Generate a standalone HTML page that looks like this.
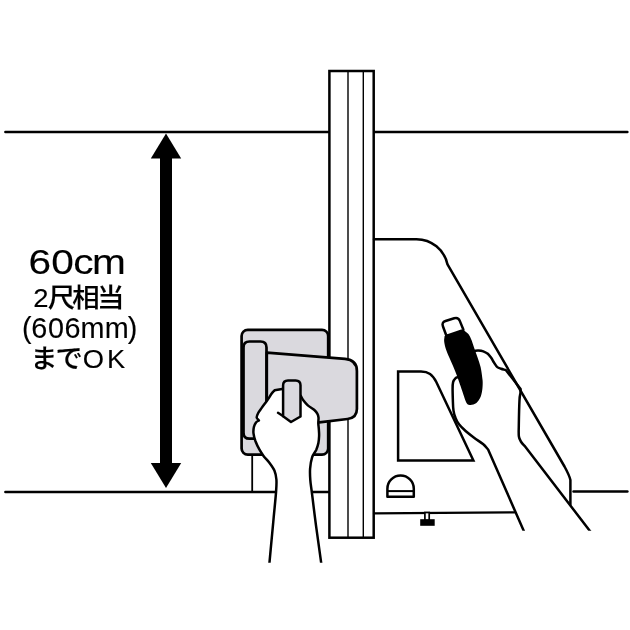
<!DOCTYPE html>
<html lang="ja">
<head>
<meta charset="utf-8">
<title>60cm 2尺相当(606mm)までOK</title>
<style>
html,body{margin:0;padding:0;background:#fff;}
body{width:630px;height:630px;overflow:hidden;position:relative;font-family:"Liberation Sans","Noto Sans CJK JP",sans-serif;}
svg{position:absolute;left:0;top:0;display:block;will-change:transform;}
.ln{fill:none;stroke:#000;stroke-width:2.5;stroke-linecap:round;stroke-linejoin:round;}
.bt{fill:none;stroke:#000;stroke-width:2.5;stroke-linecap:butt;stroke-linejoin:miter;}
.thin{fill:none;stroke:#000;stroke-width:1.4;}
.gy{fill:#dad9de;stroke:#000;stroke-width:2.7;stroke-linejoin:round;stroke-linecap:round;}
.wh{fill:#fff;stroke:none;}
text{fill:#000;stroke:#000;stroke-width:.12;stroke-linejoin:round;}
.la{font-family:"Liberation Sans",sans-serif;font-weight:400;}
.jp{font-family:"Liberation Sans","Noto Sans CJK JP",sans-serif;font-weight:500;}
</style>
</head>
<body>
<svg width="630" height="630" viewBox="0 0 630 630">
<defs><clipPath id="cl"><rect x="0" y="0" width="630" height="562.7"/></clipPath><clipPath id="cr"><rect x="0" y="0" width="630" height="530.8"/></clipPath></defs>
<rect width="630" height="630" fill="#fff"/>

<!-- wall lines -->
<path class="ln" d="M5.4 131.9H627.4"/>
<path class="ln" d="M5.4 492.1H329"/>
<path class="ln" d="M573.5 491.4H627.4"/>

<!-- dimension arrow -->
<g fill="#000">
<rect x="160" y="157" width="12" height="308"/>
<path d="M166 133.5L181.2 158.6H150.8Z"/>
<path d="M166 488L181.2 462.9H150.8Z"/>
</g>

<!-- text -->
<g id="labels">
<text class="la" transform="scale(1.1387,1)" font-size="35.7" y="273.7" x="24.99 45.00 64.38 80.89">60cm</text>
<text class="jp" transform="scale(1.0546,1)" font-size="26" y="306.9" x="31.51 45.25 68.52 92.08">2尺相当</text>
<text class="la" transform="scale(0.9832,1)" font-size="29.3" y="337.8" x="22.42 31.72 48.76 65.59 81.87 106.44 129.85">(606mm)</text>
<text class="jp" transform="scale(1.0277,1)" font-size="26.6" y="367.9" x="29.40 54.10 80.44 104.18">までOK</text>
</g>

<!-- small vertical line under guide -->
<path class="thin" style="stroke-width:1.8" d="M252.2 454V492"/>

<!-- guide base (gray rounded rect) -->
<rect class="gy" x="241.6" y="329.8" width="86.6" height="124.9" rx="6.2" ry="6.2"/>

<!-- ruler -->
<rect class="bt" x="329.4" y="71" width="44.3" height="466.7" style="fill:#fff"/>
<path class="thin" d="M348 71V537.7M363.3 71V537.7"/>

<!-- machine body -->
<path class="ln" d="M374 239.2H416.5A31.8 31.8 0 0 1 447.5 264.4L564.5 466.5C567.5 472 569.5 476 570.4 480V504.6"/>
<path class="ln" style="stroke-width:2.3" d="M374 513.3L514.5 512.3"/>
<path class="ln" style="stroke-linejoin:miter" d="M398.1 371.6H421C428.5 371.6 432.5 374.5 436.3 382L473.4 460.5H398.1Z"/>
<path class="ln" d="M387.4 496.8V488.7A13.2 13.2 0 0 1 413.8 488.7V496.8Z"/>
<path class="thin" style="stroke-width:2" d="M387.4 491.1H413.8"/>
<rect x="424.9" y="512.5" width="4.3" height="8" fill="#fff" stroke="#000" stroke-width="1.7"/>
<rect x="420.2" y="519.2" width="14.5" height="6.6" fill="#000"/>

<!-- guide handle + plate -->
<path class="gy" d="M266.5 402V347.5Q266.5 341.5 260.5 341.5H249.5Q243.5 341.5 243.5 347.5V432.7Q243.5 438.7 249.5 438.7H256"/>
<path class="gy" d="M266.8 352.7L345 358.9C352.5 359.6 356.9 363.5 356.9 371V409C356.9 415 354 418.2 347.5 419L319.2 422.3L266.8 410Z"/>

<!-- left hand -->
<path class="wh" d="M282.1 389.1L274.6 390.3C273.7 391.3 273.2 391.5 271.9 393.3C270.6 395.1 268.5 398.6 266.8 401C265.1 403.4 263.1 405.9 261.7 407.9C260.3 409.9 259 411.4 258.2 413C257.4 414.6 256.6 416.3 256.7 417.5C256.8 418.7 258.2 419.4 258.9 420.4C257.9 421.1 256.8 421.4 256 422.5C255.2 423.6 254.3 425.2 253.9 427C253.5 428.8 253.2 431 253.5 433.3C253.8 435.6 254.5 438.4 255.4 441C256.4 443.6 257.8 446.7 259.2 449.2C260.6 451.7 262.1 454 263.7 456.2C265.3 458.4 267.2 459.8 269 462.2C270.8 464.6 273.2 467.7 274.4 470.6C275.6 473.5 276.1 476 276.4 479.5C276.7 483 276.6 484.4 276.1 491.4C275.6 498.4 274.4 509.4 273.3 521.6C272.2 533.8 270.6 550.2 269.3 564.5L321.4 564.5C319.8 552.7 318.1 540.9 316.5 529.2C314.9 517.5 313.1 502.5 312.1 494.3C311.1 486.1 310.6 484.3 310.3 480C310 475.7 309.8 472.4 310.1 468.6C310.4 464.8 311.1 460.4 312.1 457.3C313.1 454.2 315.1 452.4 316.2 450C317.2 447.6 317.9 445.3 318.4 443C318.9 440.7 319 438.2 319.1 436C319.2 433.8 319 432.1 318.9 430C318.8 427.9 318.4 425.5 318.3 423.4C318.2 421.3 318.7 419.1 318.5 417.5C318.3 415.9 318 415 317.3 413.7C316.6 412.4 315.7 411.2 314.1 409.8C312.5 408.4 309.6 407 307.8 405.4C306 403.8 304.5 401.9 303.3 400.3C302.1 398.7 301.6 397.4 300.8 395.9Z"/>
<g clip-path="url(#cl)"><path class="ln" d="M282.1 389.1L274.6 390.3C273.7 391.3 273.2 391.5 271.9 393.3C270.6 395.1 268.5 398.6 266.8 401C265.1 403.4 263.1 405.9 261.7 407.9C260.3 409.9 259 411.4 258.2 413C257.4 414.6 256.6 416.3 256.7 417.5C256.8 418.7 258.2 419.4 258.9 420.4C257.9 421.1 256.8 421.4 256 422.5C255.2 423.6 254.3 425.2 253.9 427C253.5 428.8 253.2 431 253.5 433.3C253.8 435.6 254.5 438.4 255.4 441C256.4 443.6 257.8 446.7 259.2 449.2C260.6 451.7 262.1 454 263.7 456.2C265.3 458.4 267.2 459.8 269 462.2C270.8 464.6 273.2 467.7 274.4 470.6C275.6 473.5 276.1 476 276.4 479.5C276.7 483 276.6 484.4 276.1 491.4C275.6 498.4 274.4 509.4 273.3 521.6C272.2 533.8 270.6 550.2 269.3 564.5"/>
<path class="ln" d="M321.4 564.5C319.8 552.7 318.1 540.9 316.5 529.2C314.9 517.5 313.1 502.5 312.1 494.3C311.1 486.1 310.6 484.3 310.3 480C310 475.7 309.8 472.4 310.1 468.6C310.4 464.8 311.1 460.4 312.1 457.3C313.1 454.2 315.1 452.4 316.2 450C317.2 447.6 317.9 445.3 318.4 443C318.9 440.7 319 438.2 319.1 436C319.2 433.8 319 432.1 318.9 430C318.8 427.9 318.4 425.5 318.3 423.4C318.2 421.3 318.7 419.1 318.5 417.5C318.3 415.9 318 415 317.3 413.7C316.6 412.4 315.7 411.2 314.1 409.8C312.5 408.4 309.6 407 307.8 405.4C306 403.8 304.5 401.9 303.3 400.3C302.1 398.7 301.6 397.4 300.8 395.9"/></g>
<path class="ln" d="M278 412.8L283.3 416.2"/>
<path class="gy" style="stroke-width:2.5" d="M283.1 385.3Q283.1 380.4 288 380.4H295.6Q300.5 380.4 300.5 385.3V416.5L291 422L283.1 416.2Z"/>

<!-- right hand -->
<g clip-path="url(#cr)"><path class="ln" d="M474.4 350.9C475.7 350.7 476.8 350.3 478.3 350.4C479.8 350.5 481.7 350.7 483.3 351.3C484.9 351.9 486.5 352.8 487.8 353.8C489.1 354.9 489.9 356.1 491 357.6C492.1 359.1 493.1 361.1 494.1 362.7C495.2 364.3 496.1 366.1 497.3 367.1C498.5 368.1 499.7 368.2 501.1 368.7C502.6 369.2 504.4 369.7 506 370.2L520.6 389C520.5 390.4 520.6 391.5 520.4 393.3C520.2 395.1 519.8 394.6 519.5 400C519.2 405.4 518.9 419.3 518.8 425.4C518.7 431.5 518.5 433.7 518.9 436.5C519.3 439.3 520.1 440.2 521.2 442C522.3 443.8 524.1 445.3 525.5 447L591.3 532.8"/>
<path class="ln" d="M458.6 377C457.5 377.4 456.3 377.4 455.4 378.3C454.5 379.2 453.6 380.3 453.1 382.1C452.6 383.9 452.6 385.7 452.6 389C452.6 392.3 452.8 398.1 452.9 401.7C453 405.3 453.1 408 453.5 410.6C453.9 413.2 454.4 415.3 455.4 417.6C456.3 419.9 457.5 422.4 459.2 424.6C460.9 426.8 463.1 428.8 465.6 431C468.1 433.2 471.4 435.7 474.4 437.9C477.3 440.1 481 442.4 483.3 444.3C485.6 446.2 486.5 447.8 488.1 449.5L524.6 532.8"/></g>
<!-- cutter -->
<path d="M444.6 336C444.5 337.9 443.9 339.3 444.2 341.7C444.5 344.1 445.3 347.4 446.4 350.6C447.5 353.8 449.2 357.4 450.7 360.8C452.1 364.2 453.8 367.6 455.1 371C456.5 374.4 457.6 377.7 458.8 381.1C460 384.5 461.3 388.4 462.4 391.6C463.5 394.8 464.5 398.4 465.4 400.5C466.2 402.6 466.6 403.5 467.5 404.2C468.4 404.9 469.1 405.1 470.6 404.9C472.1 404.7 474.8 404.1 476.4 402.9C478 401.7 479.3 399.7 480.3 397.6C481.3 395.5 481.8 392.8 482.2 390.3C482.6 387.8 482.7 384.9 482.7 382.7C482.7 380.5 482.5 379.9 482.2 377.3C481.9 374.7 481.4 370.5 480.6 367.1C479.8 363.7 478.5 360.2 477.4 357C476.3 353.8 475.1 350.9 474.2 348.1C473.2 345.4 472.7 342.8 471.7 340.5C470.7 338.2 469.8 335.9 468.4 334.1C467 332.4 465.1 331.4 463.5 330Z" fill="#000"/>
<path d="M442.9 326.2Q441.5 322.3 445.5 321L454.2 318.3Q458.2 317 459.8 320.9L463.3 329.5Q463.5 330 463 330.2L446.9 335.6Q446.4 335.8 446.2 335.3Z" fill="#fff" stroke="#000" stroke-width="2.5" stroke-linejoin="round"/>
</svg>
</body>
</html>
